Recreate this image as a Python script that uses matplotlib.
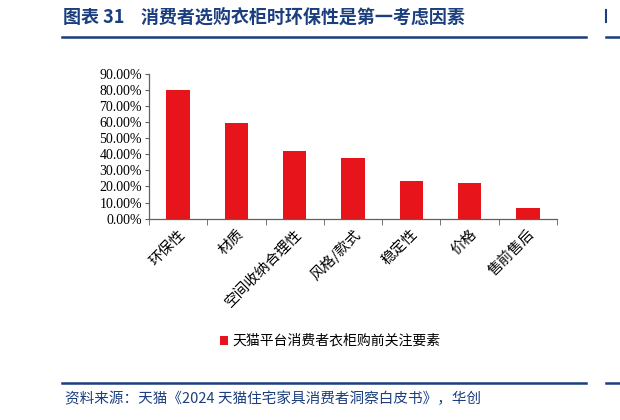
import numpy as np
import matplotlib
matplotlib.use('Agg')
import matplotlib.pyplot as plt
from matplotlib.ticker import FuncFormatter, FixedLocator

plt.rcParams['font.family'] = ['Noto Sans CJK SC', 'DejaVu Sans']

categories = ['环保性', '材质', '空间收纳合理性', '风格/款式', '稳定性', '价格', '售前售后']
values = [0.80, 0.592, 0.422, 0.379, 0.232, 0.220, 0.068]
series_name = '天猫平台消费者衣柜购前关注要素'
title = '图表 31    消费者选购衣柜时环保性是第一考虑因素'
source = '资料来源：天猫《2024 天猫住宅家具消费者洞察白皮书》，华创'

navy = '#1b3f7e'
red = '#e8141c'
axis_gray = '#606060'

fig = plt.figure(figsize=(6.2, 4.2), dpi=100)

ax = fig.add_axes([149 / 620, 1 - 218.7 / 420, 408 / 620, 145 / 420])
x = np.arange(len(categories))
ax.bar(x, values, width=0.4, color=red, label=series_name, zorder=2)

ax.set_xlim(-0.5, len(categories) - 0.5)
ax.set_ylim(0, 0.9)
ax.set_yticks(np.arange(0, 0.91, 0.1))
ax.yaxis.set_major_formatter(FuncFormatter(lambda v, p: f'{v * 100:.2f}%'))
for lab in ax.get_yticklabels():
    lab.set_fontfamily('Liberation Serif')
    lab.set_fontsize(10)

ax.set_xticks(x)
ax.set_xticklabels(categories, rotation=45, ha='right', rotation_mode='anchor', fontsize=10.5)
ax.xaxis.set_minor_locator(FixedLocator(np.arange(-0.5, len(categories), 1.0)))
ax.tick_params(axis='x', which='major', length=0, pad=6)
ax.tick_params(axis='x', which='minor', length=4, color=axis_gray, direction='out')
ax.tick_params(axis='y', length=3, color=axis_gray, direction='out', pad=2)

for side in ['top', 'right']:
    ax.spines[side].set_visible(False)
for side in ['left', 'bottom']:
    ax.spines[side].set_color(axis_gray)
    ax.spines[side].set_linewidth(0.9)

fig.legend(loc='center', bbox_to_anchor=(330 / 620, 1 - 341 / 420), frameon=False,
           fontsize=10, handlelength=0.6, handleheight=0.6, handletextpad=0.3)

# header and footer
fig.text(63 / 620, 1 - 17 / 420, title, fontsize=13, fontweight='bold', color=navy,
         va='center', ha='left')
fig.add_artist(plt.Line2D([62 / 620, 586 / 620], [1 - 37 / 420] * 2, color=navy, lw=1.8))
fig.add_artist(plt.Line2D([606 / 620, 1.0], [1 - 37 / 420] * 2, color=navy, lw=1.8))
fig.add_artist(plt.Line2D([606 / 620, 606 / 620], [1 - 22 / 420, 1 - 10 / 420], color=navy, lw=1.5))
fig.add_artist(plt.Line2D([62 / 620, 586 / 620], [1 - 383 / 420] * 2, color=navy, lw=1.8))
fig.add_artist(plt.Line2D([606 / 620, 1.0], [1 - 383 / 420] * 2, color=navy, lw=1.8))
fig.text(65 / 620, 1 - 399 / 420, source, fontsize=10.5, color=navy, va='center', ha='left',
         style='italic')

fig.savefig('out.png', dpi=100)
